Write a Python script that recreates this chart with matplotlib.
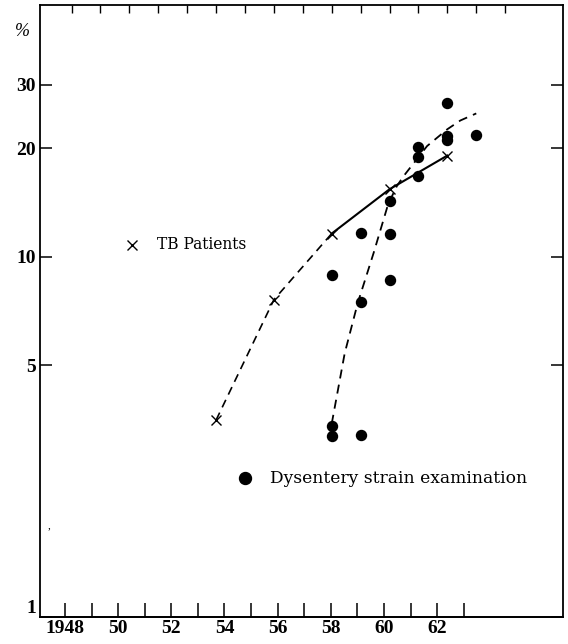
import numpy as np
import matplotlib
matplotlib.use("Agg")
import matplotlib.pyplot as plt
from matplotlib.ticker import NullLocator

# TB patients: surveyed years and rate (%)
tb_years = [1953, 1955, 1957, 1959, 1961]
tb_rate = [3.52, 7.6, 11.6, 15.4, 19.1]

# dysentery strain examinations, several strains per year (%)
dys_years = [1957, 1957, 1957, 1958, 1958, 1958, 1959, 1959, 1959,
             1960, 1960, 1960, 1961, 1961, 1961, 1962]
dys_rate = [8.9, 3.38, 3.19, 11.65, 7.47, 3.21, 11.6, 8.64, 14.3,
            16.8, 18.9, 20.2, 21.7, 21.1, 26.7, 21.8]

# hand-fitted trend through the dysentery results
dys_fit_years = [1957.0, 1957.45, 1957.9, 1958.45, 1958.95, 1959.25,
                 1959.5, 1960.3, 1961.0, 1961.45, 1962.0]
dys_fit_rate = [3.44, 5.4, 7.44, 10.25, 13.98, 15.7,
                16.8, 20.3, 22.6, 23.9, 25.0]

year_ticks = list(range(1948, 1964))
year_labels = ["1948" if y == 1948 else (f"{y % 100}" if y % 2 == 0 else "")
               for y in year_ticks]
pct_ticks = [1, 5, 10, 20, 30]
pct_labels = ["1", "5", "10", "20", "30"]

# the printed year rule under the frame runs a little tighter than the plotted grid
GRID_W, RULE_W, RULE_SHIFT = 28.9, 26.57, 6.5


def to_rule(t):
    return 1948 + (RULE_SHIFT + GRID_W * (np.asarray(t) - 1948)) / RULE_W


def from_rule(r):
    return 1948 + (RULE_W * (np.asarray(r) - 1948) - RULE_SHIFT) / GRID_W


serif = ["Liberation Serif", "DejaVu Serif"]
plt.rcParams["font.family"] = serif

fig = plt.figure(figsize=(5.68, 6.44), dpi=100)
ax = fig.add_axes([40 / 568, 27 / 644, 523 / 568, 612 / 644])

ax.set_yscale("log")
ax.set_xlim(1946.91, 1965.0)
ax.set_ylim(1, 50)

# TB curve: dashed up to 1957, then solid
ax.plot(tb_years[:3], tb_rate[:3], color="black", lw=1.2, ls=(0, (5, 3.5)))
ax.plot(tb_years[2:], tb_rate[2:], color="black", lw=1.5, ls="-")
ax.plot(tb_years, tb_rate, ls="none", marker="x", ms=7, mew=1.0, color="black")

ax.plot(dys_fit_years, dys_fit_rate, color="black", lw=1.3, ls=(0, (5, 3.5)))
ax.plot(dys_years, dys_rate, ls="none", marker="o", ms=7.2, color="black")

# legend entries written into the plot area
ax.plot([1950.09], [10.75], ls="none", marker="x", ms=7, mew=1.0, color="black")
ax.text(1950.95, 10.8, "TB Patients", fontsize=11.2, va="center", ha="left",
        family="DejaVu Serif")
ax.plot([1954.0], [2.43], ls="none", marker="o", ms=8.6, color="black")
ax.text(1954.88, 2.43, "Dysentery strain examination", fontsize=12.3,
        va="center", ha="left", family="DejaVu Serif")

ax.text(-0.033, 0.957, "%", transform=ax.transAxes, fontsize=13,
        style="italic", ha="center", va="center")
ax.text(0.017, 0.145, ",", transform=ax.transAxes, fontsize=8, ha="center")

ax.set_yticks(pct_ticks)
ax.set_yticklabels(pct_labels)
ax.yaxis.set_minor_locator(NullLocator())
ax.tick_params(axis="y", which="major", direction="in", left=True, right=True,
               length=8.4, width=1.1, labelsize=14, pad=3)
for lab in ax.get_yticklabels():
    lab.set_fontweight("bold")
ax.get_yticklabels()[0].set_va("bottom")

# unlabeled year grid along the top
ax.set_xticks(year_ticks)
ax.xaxis.set_minor_locator(NullLocator())
ax.tick_params(axis="x", direction="in", top=True, bottom=False,
               labelbottom=False, length=5.5, width=1.0)

rule = ax.secondary_xaxis("bottom", functions=(to_rule, from_rule))
rule.set_xticks(year_ticks)
rule.set_xticklabels(year_labels)
rule.xaxis.set_minor_locator(NullLocator())
rule.tick_params(direction="in", length=10, width=1.1, labelsize=14, pad=2)
for lab in rule.get_xticklabels():
    lab.set_fontweight("bold")
rule.spines["bottom"].set_linewidth(1.3)

for s in ax.spines.values():
    s.set_linewidth(1.3)

fig.savefig("out.png", dpi=100)
